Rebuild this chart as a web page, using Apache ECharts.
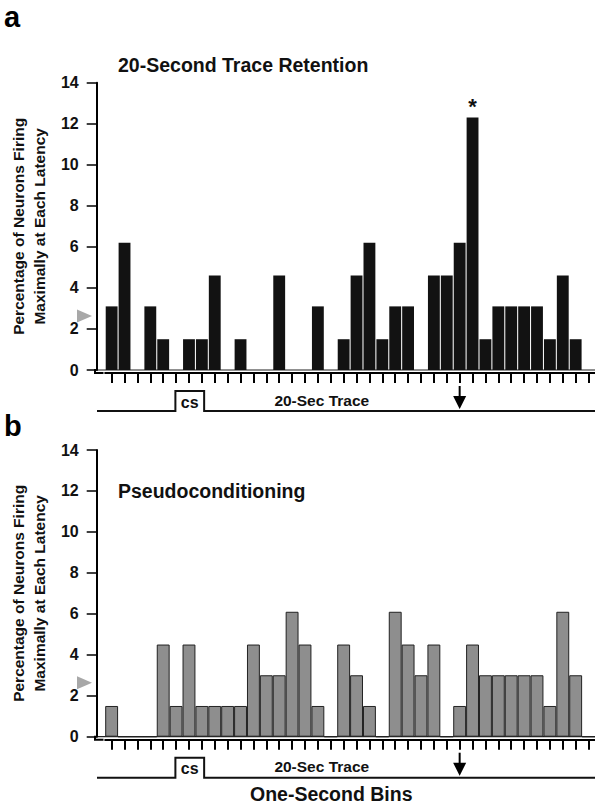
<!DOCTYPE html>
<html>
<head>
<meta charset="utf-8">
<script src="https://cdn.jsdelivr.net/npm/echarts@6/dist/echarts.min.js"></script>
<style>
html,body{margin:0;padding:0;background:#fff;}
#chart{width:595px;height:806px;}
</style>
</head>
<body>
<div id="chart"></div>
<script>
// ---- data ----
const bins = ['1','2','3','4','5','6','7','8','9','10','11','12','13','14','15','16','17','18','19','20','21','22','23','24','25','26','27','28','29','30','31','32','33','34','35','36','37','38'];
const traceRetention = [3.1,6.2,0,3.1,1.5,0,1.5,1.5,4.6,0,1.5,0,0,4.6,0,0,3.1,0,1.5,4.6,6.2,1.5,3.1,3.1,0,4.6,4.6,6.2,12.3,1.5,3.1,3.1,3.1,3.1,1.5,4.6,1.5,0];
const pseudoconditioning = [1.5,0,0,0,4.5,1.5,4.5,1.5,1.5,1.5,1.5,4.5,3.0,3.0,6.1,4.5,1.5,0,4.5,3.0,1.5,0,6.1,4.5,3.0,4.5,0,1.5,4.5,3.0,3.0,3.0,3.0,3.0,1.5,6.1,3.0,0];
const significantBins = [28];          // bin index marked with *
const chanceLevel = 100 / 38;          // grey arrowhead on the y axis
const yTicks = [0, 2, 4, 6, 8, 10, 12, 14];
const csOnset = 5, csOffset = 7.2, usOnset = 27;   // in bin units
const panelTitles = ['20-Second Trace Retention', 'Pseudoconditioning'];
const yName = 'Percentage of Neurons Firing\nMaximally at Each Latency';

const FONT = '"Liberation Sans", Arial, sans-serif';
const chart = echarts.init(document.getElementById('chart'), null, {renderer: 'svg'});

const grids = [
  {left: 103.5, top: 82.7, width: 496.7, height: 287.3},
  {left: 103.5, top: 450, width: 496.7, height: 286.7}
];

function xAxisCfg(i) {
  return {
    type: 'category', gridIndex: i, data: bins, position: 'bottom', offset: 3,
    boundaryGap: true,
    axisLine: {show: true, onZero: false, lineStyle: {color: '#000', width: 2}},
    axisTick: {show: true, alignWithLabel: true, interval: 0, length: 10, lineStyle: {color: '#000', width: 2}},
    axisLabel: {show: false},
    splitLine: {show: false}
  };
}
function yAxisCfg(i) {
  return {
    type: 'value', gridIndex: i, min: yTicks[0], max: yTicks[yTicks.length - 1], interval: 2,
    offset: 8.5,
    axisLine: {show: true, lineStyle: {color: '#000', width: 2}},
    axisTick: {show: true, length: 10, lineStyle: {color: '#000', width: 1.5}},
    axisLabel: {margin: 18, color: '#111', fontFamily: FONT, fontWeight: 'bold', fontSize: 16},
    splitLine: {show: false},
    name: yName, nameLocation: 'middle', nameGap: 46, nameRotate: 90,
    nameTextStyle: {color: '#111', fontFamily: FONT, fontWeight: 'bold', fontSize: 15.5, lineHeight: 21}
  };
}

const option = {
  backgroundColor: '#fff',
  animation: false,
  title: [
    {text: 'a', left: 4, top: 2, padding: 0, textStyle: {fontFamily: FONT, fontWeight: 'bold', fontSize: 29, color: '#000'}},
    {text: panelTitles[0], left: 118, top: 55, padding: 0, textStyle: {fontFamily: FONT, fontWeight: 'bold', fontSize: 19.5, color: '#111'}},
    {text: 'b', left: 4, top: 411, padding: 0, textStyle: {fontFamily: FONT, fontWeight: 'bold', fontSize: 29, color: '#000'}},
    {text: panelTitles[1], left: 118, top: 481, padding: 0, textStyle: {fontFamily: FONT, fontWeight: 'bold', fontSize: 19.5, color: '#111'}},
    {text: 'One-Second Bins', left: 250, top: 784, padding: 0, textStyle: {fontFamily: FONT, fontWeight: 'bold', fontSize: 19.5, color: '#111'}}
  ],
  grid: grids,
  xAxis: [xAxisCfg(0), xAxisCfg(1)],
  yAxis: [yAxisCfg(0), yAxisCfg(1)],
  series: [
    {
      type: 'bar', xAxisIndex: 0, yAxisIndex: 0, barCategoryGap: '8%',
      itemStyle: {color: '#121212'},
      data: traceRetention.map((v, i) => significantBins.includes(i)
        ? {value: v, label: {show: true, position: 'top', distance: 0, formatter: '*', fontSize: 22, fontWeight: 'bold', color: '#111', fontFamily: FONT}}
        : v)
    },
    {
      type: 'bar', xAxisIndex: 1, yAxisIndex: 1, barCategoryGap: '0%',
      itemStyle: {color: '#8e8e8e', borderColor: '#222', borderWidth: 1},
      data: pseudoconditioning
    }
  ]
};
chart.setOption(option);

// ---- annotations tied to axis coordinates ----
const graphics = [];
[0, 1].forEach(p => {
  const px = v => chart.convertToPixel({xAxisIndex: p}, v);
  const py = v => chart.convertToPixel({yAxisIndex: p}, v);
  const y0 = py(0);
  const axisX = grids[p].left - 8.5;
  const gridL = grids[p].left;
  const right = 610;
  const binW = grids[p].width / bins.length;
  const xb = b => gridL + (b + 0.5) * binW;   // bin index -> pixel (fractional)
  // baseline double line / corner
  graphics.push({type: 'line', shape: {x1: axisX, y1: y0, x2: right, y2: y0}, style: {stroke: '#222', lineWidth: 1.2}});
  graphics.push({type: 'polyline', shape: {points: [[axisX, y0 - 1], [axisX, y0 + 3], [gridL, y0 + 3]]}, style: {stroke: '#000', lineWidth: 2, fill: null}});
  // chance-level arrowhead
  const yc = py(chanceLevel);
  graphics.push({type: 'polygon', shape: {points: [[77, yc - 6.5], [92, yc], [77, yc + 6.5]]}, style: {fill: '#a8a8a8'}});
  // CS / trace timeline
  const low = y0 + 41, high = y0 + 21;
  const xOn = xb(csOnset), xOff = xb(csOffset);
  graphics.push({type: 'polyline', shape: {points: [[axisX + 2, low], [xOn, low], [xOn, high], [xOff, high], [xOff, low], [right, low]]}, style: {stroke: '#111', lineWidth: 2, fill: null}});
  graphics.push({type: 'text', style: {text: 'cs', x: (xOn + xOff) / 2, y: y0 + 32, align: 'center', verticalAlign: 'middle', font: 'bold 16px ' + FONT, fill: '#111'}});
  graphics.push({type: 'text', style: {text: '20-Sec Trace', x: xb(16.2), y: y0 + 30, align: 'center', verticalAlign: 'middle', font: 'bold 15.5px ' + FONT, fill: '#111'}});
  // US arrow
  const xa = px(usOnset);
  graphics.push({type: 'line', shape: {x1: xa, y1: y0 + 16, x2: xa, y2: y0 + 28}, style: {stroke: '#000', lineWidth: 2}});
  graphics.push({type: 'polygon', shape: {points: [[xa - 6.5, y0 + 26], [xa + 6.5, y0 + 26], [xa, y0 + 39]]}, style: {fill: '#000'}});
});
chart.setOption({graphic: graphics});
</script>
</body>
</html>
